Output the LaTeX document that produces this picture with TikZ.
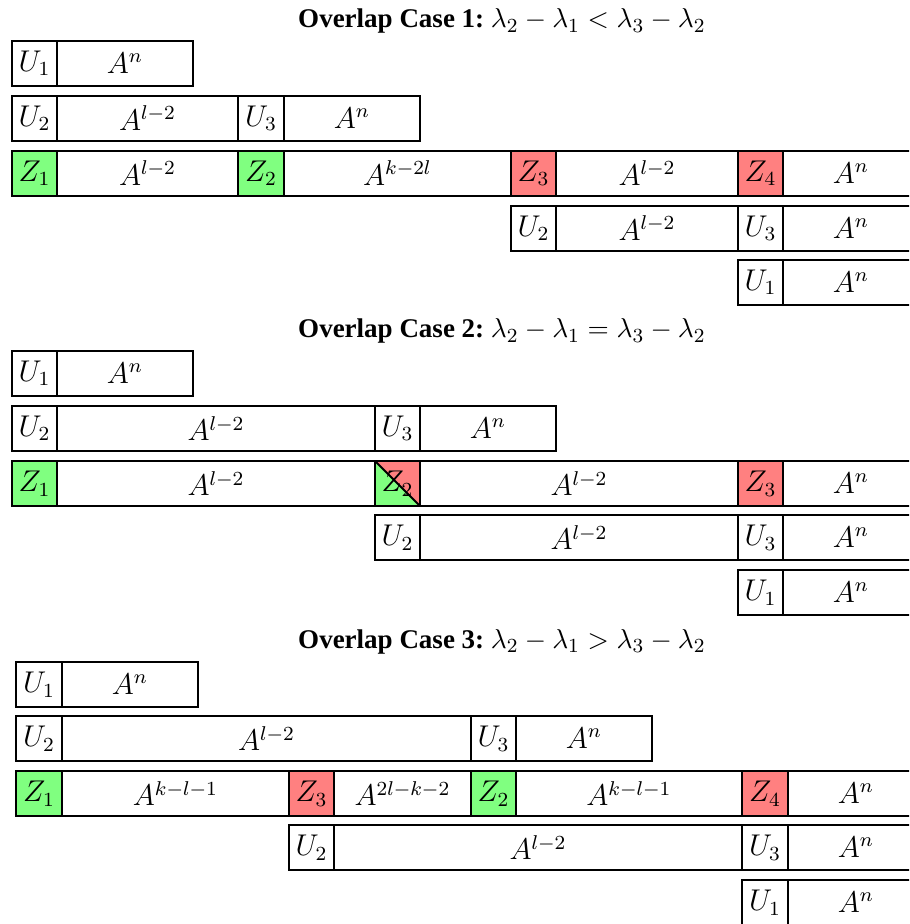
\documentclass[tikz,border=0pt]{standalone}
\usepackage{fontspec}
\newfontfamily\titlefont{Liberation Serif}
\tikzset{
  cellline/.style={draw=black, line width=0.8pt},
  celltext/.style={font=\fontsize{12}{14}\selectfont, inner sep=0pt},
  titletext/.style={font=\fontsize{10.8}{13}\selectfont, inner sep=0pt, anchor=base},
}
\definecolor{zgreen}{RGB}{128,255,128}
\definecolor{zred}{RGB}{255,128,128}
% one cell of a row: name, left x, right x, top y, fill, label
\newcommand\cellbox[6]{%
  \draw[cellline, fill=#5] (#2,#4) rectangle (#3,#4+45)
    node[midway, celltext] (#1) {$#6$};}
\begin{document}
\begin{tikzpicture}[x=0.4pt, y=-0.4pt]
\useasboundingbox (0,0) rectangle (909,924);
\clip (0,0) rectangle (909,924);

% ---------------- Case 1 ----------------
\node[titletext] (t1) at (502,28) {{\titlefont\bfseries Overlap Case 1:}\hspace{0.25em}$\lambda_2-\lambda_1<\lambda_3-\lambda_2$};
\cellbox{a11}{12}{57}{41}{white}{U_1}
\cellbox{a12}{57}{193}{41}{white}{A^n}
\cellbox{a21}{12}{57}{96}{white}{U_2}
\cellbox{a22}{57}{238}{96}{white}{A^{l-2}}
\cellbox{a23}{238}{284}{96}{white}{U_3}
\cellbox{a24}{284}{420}{96}{white}{A^n}
\cellbox{a31}{12}{57}{151}{zgreen}{Z_1}
\cellbox{a32}{57}{238}{151}{white}{A^{l-2}}
\cellbox{a33}{238}{284}{151}{zgreen}{Z_2}
\cellbox{a34}{284}{511}{151}{white}{A^{k-2l}}
\cellbox{a35}{511}{556}{151}{zred}{Z_3}
\cellbox{a36}{556}{738}{151}{white}{A^{l-2}}
\cellbox{a37}{738}{783}{151}{zred}{Z_4}
\cellbox{a38}{783}{919}{151}{white}{A^n}
\cellbox{a41}{511}{556}{206}{white}{U_2}
\cellbox{a42}{556}{738}{206}{white}{A^{l-2}}
\cellbox{a43}{738}{783}{206}{white}{U_3}
\cellbox{a44}{783}{919}{206}{white}{A^n}
\cellbox{a51}{738}{783}{260}{white}{U_1}
\cellbox{a52}{783}{919}{260}{white}{A^n}

% ---------------- Case 2 ----------------
\node[titletext] (t2) at (502,338) {{\titlefont\bfseries Overlap Case 2:}\hspace{0.25em}$\lambda_2-\lambda_1=\lambda_3-\lambda_2$};
\cellbox{b11}{12}{57}{351}{white}{U_1}
\cellbox{b12}{57}{193}{351}{white}{A^n}
\cellbox{b21}{12}{57}{406}{white}{U_2}
\cellbox{b22}{57}{375}{406}{white}{A^{l-2}}
\cellbox{b23}{375}{420}{406}{white}{U_3}
\cellbox{b24}{420}{556}{406}{white}{A^n}
\cellbox{b31}{12}{57}{461}{zgreen}{Z_1}
\cellbox{b32}{57}{375}{461}{white}{A^{l-2}}
% split cell: green below the diagonal, red above it
\fill[zgreen] (375,461) -- (375,506) -- (420,506) -- cycle;
\fill[zred] (375,461) -- (420,461) -- (420,506) -- cycle;
\draw[cellline] (375,461) -- (420,506);
\draw[cellline] (375,461) rectangle (420,506) node[midway, celltext] (b33) {$Z_2$};
\cellbox{b34}{420}{738}{461}{white}{A^{l-2}}
\cellbox{b35}{738}{783}{461}{zred}{Z_3}
\cellbox{b36}{783}{919}{461}{white}{A^n}
\cellbox{b41}{375}{420}{515}{white}{U_2}
\cellbox{b42}{420}{738}{515}{white}{A^{l-2}}
\cellbox{b43}{738}{783}{515}{white}{U_3}
\cellbox{b44}{783}{919}{515}{white}{A^n}
\cellbox{b51}{738}{783}{570}{white}{U_1}
\cellbox{b52}{783}{919}{570}{white}{A^n}

% ---------------- Case 3 ----------------
\node[titletext] (t3) at (502,648) {{\titlefont\bfseries Overlap Case 3:}\hspace{0.25em}$\lambda_2-\lambda_1>\lambda_3-\lambda_2$};
\cellbox{c11}{16}{62}{662}{white}{U_1}
\cellbox{c12}{62}{198}{662}{white}{A^n}
\cellbox{c21}{16}{62}{716}{white}{U_2}
\cellbox{c22}{62}{471}{716}{white}{A^{l-2}}
\cellbox{c23}{471}{516}{716}{white}{U_3}
\cellbox{c24}{516}{652}{716}{white}{A^n}
\cellbox{c31}{16}{62}{771}{zgreen}{Z_1}
\cellbox{c32}{62}{289}{771}{white}{A^{k-l-1}}
\cellbox{c33}{289}{334}{771}{zred}{Z_3}
\cellbox{c34}{334}{471}{771}{white}{A^{2l-k-2}}
\cellbox{c35}{471}{516}{771}{zgreen}{Z_2}
\cellbox{c36}{516}{742}{771}{white}{A^{k-l-1}}
\cellbox{c37}{742}{788}{771}{zred}{Z_4}
\cellbox{c38}{788}{924}{771}{white}{A^n}
\cellbox{c41}{289}{334}{825}{white}{U_2}
\cellbox{c42}{334}{742}{825}{white}{A^{l-2}}
\cellbox{c43}{742}{788}{825}{white}{U_3}
\cellbox{c44}{788}{924}{825}{white}{A^n}
\cellbox{c51}{742}{788}{880}{white}{U_1}
\cellbox{c52}{788}{924}{880}{white}{A^n}
\end{tikzpicture}
\end{document}
